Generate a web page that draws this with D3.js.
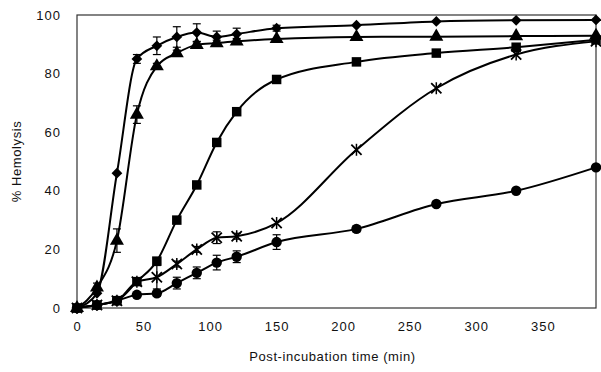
<!DOCTYPE html>
<html>
<head>
<meta charset="utf-8">
<script src="https://cdn.jsdelivr.net/npm/d3@7"></script>
<style>
  body { margin: 0; background: #fff; }
  text { font-family: "Liberation Sans", Arial, sans-serif; fill: #111; }
</style>
</head>
<body>
<svg width="601" height="372"></svg>
<script>
// post-incubation time points (min)
const times = [0, 15, 30, 45, 60, 75, 90, 105, 120, 150, 210, 270, 330, 390];

// % hemolysis per series
const diamondVals  = [0, 5, 46, 85, 89.5, 92.5, 94, 92.5, 93.5, 95.5, 96.5, 97.8, 98.2, 98.3];
const triangleVals = [0, 7, 23, 66, 82.5, 87, 89.8, 90.4, 91, 91.8, 92.5, 92.6, 92.8, 92.9];
const squareVals   = [0, 1, 2.5, 9, 16, 30, 42, 56.5, 67, 78, 84, 87, 89, 91.5];
const starVals     = [0, 1, 2.5, 9, 10.5, 15, 20, 24, 24.5, 29, 54, 75, 86.5, 91];
const circleVals   = [0, 1, 2.5, 4.5, 5, 8.5, 12, 15.5, 17.5, 22.5, 27, 35.5, 40, 48];

// error bars (same order as times)
const diamondErr  = [0, 0, 0, 1.5, 3, 3.5, 3, 2, 2, 1, 0.5, 0.5, 0.5, 0.5];
const triangleErr = [0, 1.5, 4, 3, 1, 1, 1, 1, 1, 0.5, 0.5, 0.5, 0.5, 0.5];
const squareErr   = [0, 0, 0, 0.5, 1, 1, 1, 1, 1, 1, 0.5, 0.5, 0.5, 0.5];
const starErr     = [0, 0, 0, 0.5, 4, 1, 1, 2, 1, 0.5, 0.5, 0.5, 0.5, 0.5];
const circleErr   = [0, 0, 0, 0.5, 1, 2, 2, 2.5, 2, 2.5, 1, 0.5, 0.5, 0.5];

const xTicks = [0, 50, 100, 150, 200, 250, 300, 350];
const yTicks = [0, 20, 40, 60, 80, 100];

const margin = {top: 15, right: 5, bottom: 64, left: 77};
const width = 601 - margin.left - margin.right;
const height = 372 - margin.top - margin.bottom;

const svg = d3.select("svg");
const g = svg.append("g").attr("transform", "translate(" + margin.left + "," + margin.top + ")");

const x = d3.scaleLinear().domain([0, 390]).range([0, width]);
const y = d3.scaleLinear().domain([0, 100]).range([height, 0]);

// frame
g.append("rect").attr("width", width).attr("height", height)
  .attr("fill", "none").attr("stroke", "#333").attr("stroke-width", 1.2);

// tick labels, no tick marks
g.append("g").attr("transform", "translate(0," + height + ")")
  .call(d3.axisBottom(x).tickValues(xTicks).tickSize(0).tickPadding(14))
  .call(a => a.select(".domain").remove())
  .selectAll("text").style("font-size", "13px").style("letter-spacing", "1px");

g.append("g")
  .call(d3.axisLeft(y).tickValues(yTicks).tickSize(0).tickPadding(16))
  .call(a => a.select(".domain").remove())
  .selectAll("text").style("font-size", "13px").style("letter-spacing", "1px");

svg.append("text").attr("x", margin.left + width / 2 - 4).attr("y", 361)
  .attr("text-anchor", "middle").style("font-size", "13px").style("letter-spacing", "0.6px")
  .text("Post-incubation time (min)");

svg.append("text").attr("transform", "translate(21," + (margin.top + height / 2) + ") rotate(-90)")
  .attr("text-anchor", "middle").style("font-size", "13px").style("letter-spacing", "0.6px")
  .text("% Hemolysis");

const series = [
  {vals: circleVals, err: circleErr, shape: "circle"},
  {vals: starVals, err: starErr, shape: "star"},
  {vals: squareVals, err: squareErr, shape: "square"},
  {vals: triangleVals, err: triangleErr, shape: "triangle"},
  {vals: diamondVals, err: diamondErr, shape: "diamond"}
];

const line = d3.line()
  .x(d => x(d.t)).y(d => y(d.v))
  .curve(d3.curveMonotoneX);

const symbols = {
  circle: d3.symbol().type(d3.symbolCircle).size(85),
  square: d3.symbol().type(d3.symbolSquare).size(90),
  triangle: d3.symbol().type(d3.symbolTriangle).size(85),
  diamond: d3.symbol().type(d3.symbolSquare).size(58),
  star: d3.symbol().type(d3.symbolTimes).size(70)
};

series.forEach(s => {
  const pts = times.map((t, i) => ({t: t, v: s.vals[i], e: s.err[i]}));

  g.append("path").datum(pts)
    .attr("fill", "none").attr("stroke", "#000").attr("stroke-width", 2)
    .attr("d", line);

  // error bars
  const eb = g.append("g").selectAll("g").data(pts.filter(p => p.e > 0.8)).enter().append("g");
  eb.append("line")
    .attr("x1", p => x(p.t)).attr("x2", p => x(p.t))
    .attr("y1", p => y(p.v - p.e)).attr("y2", p => y(p.v + p.e))
    .attr("stroke", "#000").attr("stroke-width", 1.2);
  [-1, 1].forEach(sg => {
    eb.append("line")
      .attr("x1", p => x(p.t) - 4).attr("x2", p => x(p.t) + 4)
      .attr("y1", p => y(p.v + sg * p.e)).attr("y2", p => y(p.v + sg * p.e))
      .attr("stroke", "#000").attr("stroke-width", 1.2);
  });

  const rot = s.shape === "diamond" ? " rotate(45)" : "";
  const m = g.append("g").selectAll("path").data(pts).enter().append("path")
    .attr("transform", p => "translate(" + x(p.t) + "," + y(p.v) + ")" + rot)
    .attr("d", symbols[s.shape]);
  if (s.shape === "star") {
    m.attr("fill", "none").attr("stroke", "#000").attr("stroke-width", 1.8);
    g.append("g").selectAll("line").data(pts).enter().append("line")
      .attr("x1", p => x(p.t)).attr("x2", p => x(p.t))
      .attr("y1", p => y(p.v) - 6).attr("y2", p => y(p.v) + 6)
      .attr("stroke", "#000").attr("stroke-width", 1.5);
  } else {
    m.attr("fill", "#000");
  }
});
</script>
</body>
</html>
